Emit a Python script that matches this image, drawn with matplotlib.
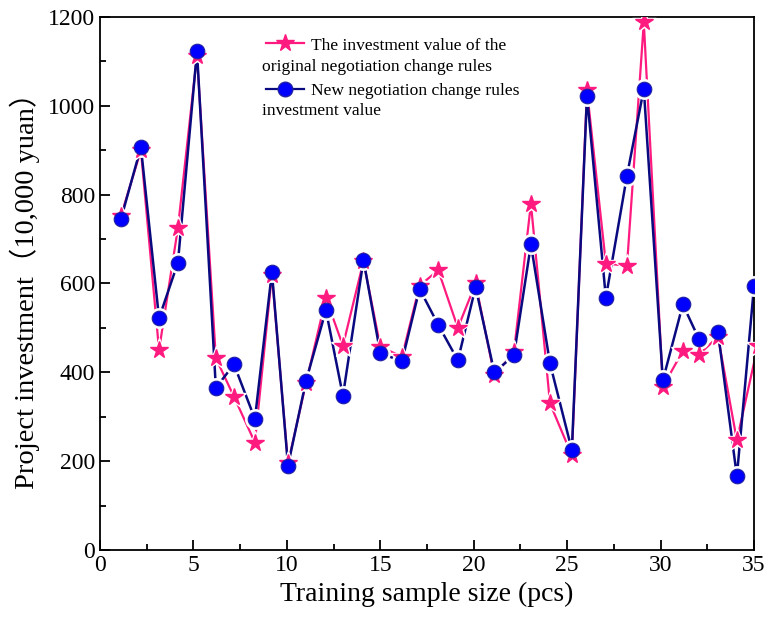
import numpy as np
import matplotlib
matplotlib.use("Agg")
import matplotlib.pyplot as plt

plt.rcParams['font.family'] = ['Liberation Serif', 'Noto Sans CJK SC']

# sample positions
x_new = [1.12, 2.19, 3.16, 4.17, 5.19, 6.2, 7.17, 8.29, 9.2, 10.06,
         11.02, 12.09, 13.0, 14.1, 15.0, 16.16, 17.1, 18.1, 19.15, 20.1,
         21.1, 22.15, 23.06, 24.08, 25.25, 26.06, 27.07, 28.2, 29.1, 30.12,
         31.19, 32.05, 33.07, 34.08, 35.0]
x_orig = x_new[:-1] + [35.2]

# investment values (10,000 yuan)
orig_vals = [752, 900, 450, 725, 1113, 432, 345, 242, 620, 195,
             375, 567, 460, 650, 458, 435, 595, 630, 500, 600,
             393, 445, 780, 330, 213, 1035, 645, 640, 1188, 368,
             448, 440, 480, 247, 460]
new_vals = [745, 907, 522, 647, 1123, 365, 418, 295, 626, 190,
            380, 540, 347, 653, 443, 425, 588, 507, 427, 592,
            400, 438, 688, 420, 225, 1023, 568, 843, 1038, 382,
            553, 475, 491, 166, 595]

pink = '#FF1A7F'
navy = '#0A0A80'
blue = '#0000FF'

fig = plt.figure(figsize=(7.65, 6.23), dpi=100)
ax = fig.add_axes([0.1307, 0.1172, 0.855, 0.8555])

# lines
ax.plot(x_orig, orig_vals, color=pink, lw=1.6, zorder=2)
ax.plot(x_new, new_vals, color=navy, lw=1.8, zorder=2.1)
# white gaps around the symbols
ax.plot(x_orig, orig_vals, ls='none', marker='*', ms=18, color='white', zorder=3)
ax.plot(x_new, new_vals, ls='none', marker='o', ms=14, color='white', zorder=3)
# symbols
ax.plot(x_orig, orig_vals, ls='none', marker='*', ms=13, color=pink,
        mec=pink, zorder=4)
ax.plot(x_new, new_vals, ls='none', marker='o', ms=10.5, color=blue,
        mec='#2020A0', mew=0.8, zorder=4.1)

ax.set_xlim(0, 35)
ax.set_ylim(0, 1200)
ax.set_xticks(np.arange(0, 36, 5))
ax.set_xticks(np.arange(2.5, 35, 5), minor=True)
ax.set_yticks(np.arange(0, 1201, 200))
ax.set_yticks(np.arange(100, 1200, 200), minor=True)
ax.tick_params(which='both', direction='in', top=False, right=False,
               labelsize=17, width=1.3)
ax.tick_params(which='major', length=7)
ax.tick_params(which='minor', length=4)
for s in ax.spines.values():
    s.set_linewidth(1.3)

ax.set_xlabel('Training sample size (pcs)', fontsize=20, labelpad=4)
ax.set_ylabel('Project investment（10,000 yuan）', fontsize=20.5, labelpad=6)

# legend, two-line labels, continuation lines placed under each handle
h1 = plt.Line2D([], [], color=pink, lw=1.6, marker='*', ms=13)
h2 = plt.Line2D([], [], color=navy, lw=1.6, marker='o', ms=10.5,
                mfc=blue, mec='#2020A0')
leg = ax.legend([h1, h2], ['The investment value of the',
                           'New negotiation change rules'],
                loc='upper left', bbox_to_anchor=(0.235, 0.985),
                frameon=False, fontsize=12.6, handlelength=2.2,
                handletextpad=0.35, labelspacing=1.68, borderpad=0.2)
ax.text(0.248, 0.906, 'original negotiation change rules', transform=ax.transAxes,
        fontsize=12.6, va='center', ha='left')
ax.text(0.248, 0.824, 'investment value', transform=ax.transAxes,
        fontsize=12.6, va='center', ha='left')

fig.savefig('out.png', dpi=100)
